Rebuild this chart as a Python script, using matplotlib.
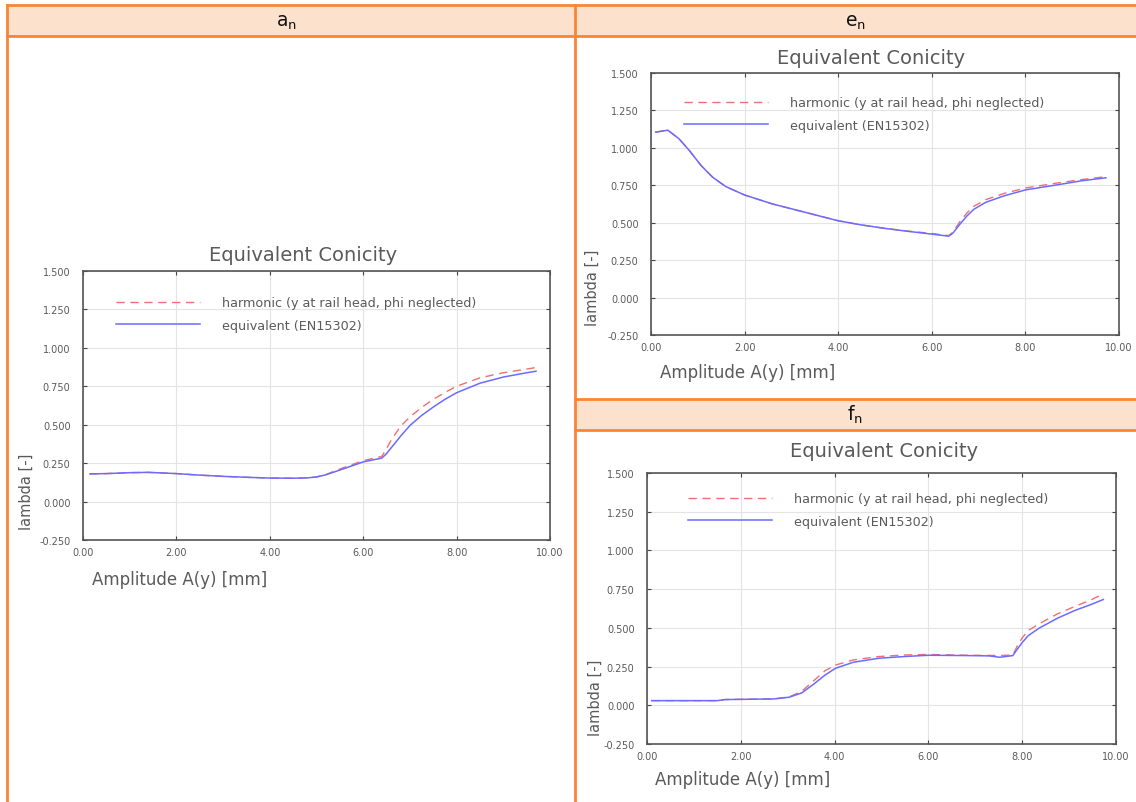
import numpy as np
import matplotlib
matplotlib.use("Agg")
import matplotlib.pyplot as plt
from matplotlib.lines import Line2D
from matplotlib.patches import Rectangle

# ---- data (amplitude [mm] -> lambda [-]) ----
a_x = [0.15, 0.5, 1.0, 1.4, 2.0, 2.5, 3.0, 3.5, 4.0, 4.5, 4.8, 5.0, 5.2, 5.5, 6.0, 6.4,
       6.5, 6.6, 6.8, 7.0, 7.25, 7.5, 7.75, 8.0, 8.5, 9.0, 9.5, 9.7]
a_equiv = [0.180, 0.182, 0.188, 0.190, 0.182, 0.172, 0.164, 0.158, 0.153, 0.152, 0.154, 0.160,
           0.174, 0.205, 0.258, 0.283, 0.312, 0.350, 0.425, 0.495, 0.560, 0.615, 0.665, 0.708,
           0.770, 0.810, 0.838, 0.848]
a_harm = [0.180, 0.182, 0.188, 0.190, 0.182, 0.172, 0.164, 0.158, 0.153, 0.152, 0.154, 0.160,
          0.176, 0.212, 0.266, 0.294, 0.345, 0.400, 0.490, 0.550, 0.612, 0.665, 0.710, 0.750,
          0.805, 0.838, 0.862, 0.872]

e_x = [0.1, 0.36, 0.6, 0.82, 1.07, 1.32, 1.6, 2.0, 2.6, 3.3, 4.0,
       4.5, 5.0, 5.5, 6.0, 6.36, 6.45, 6.6, 6.75, 6.9, 7.15, 7.55, 8.0, 8.7, 9.2, 9.72]
e_equiv = [1.105, 1.118, 1.060, 0.982, 0.882, 0.803, 0.741, 0.685, 0.625, 0.569, 0.513,
           0.485, 0.462, 0.442, 0.424, 0.410, 0.430, 0.490, 0.545, 0.590, 0.636, 0.680, 0.719,
           0.754, 0.780, 0.800]
e_harm = [1.105, 1.118, 1.060, 0.982, 0.882, 0.803, 0.741, 0.685, 0.625, 0.569, 0.513,
          0.485, 0.462, 0.444, 0.428, 0.414, 0.436, 0.507, 0.565, 0.610, 0.654, 0.696, 0.732,
          0.766, 0.788, 0.808]

f_x = [0.1, 1.5, 1.66, 2.7, 3.03, 3.3, 3.56, 3.8, 4.02, 4.4, 4.95, 5.5, 6.0, 6.85, 7.3, 7.52,
       7.8, 7.9, 8.0, 8.13, 8.36, 8.75, 9.12, 9.47, 9.73]
f_equiv = [0.030, 0.030, 0.037, 0.041, 0.052, 0.080, 0.138, 0.196, 0.239, 0.278, 0.304, 0.315,
           0.323, 0.321, 0.319, 0.310, 0.321, 0.364, 0.405, 0.450, 0.498, 0.562, 0.612, 0.651,
           0.683]
f_harm = [0.030, 0.030, 0.037, 0.041, 0.054, 0.090, 0.160, 0.224, 0.260, 0.293, 0.315, 0.325,
          0.328, 0.323, 0.322, 0.321, 0.325, 0.386, 0.435, 0.483, 0.526, 0.590, 0.638, 0.681,
          0.720]

y_ticks = [-0.25, 0.0, 0.25, 0.5, 0.75, 1.0, 1.25, 1.5]
x_ticks = [0, 2, 4, 6, 8, 10]

W, H = 1136, 803
ORANGE = "#f98535"
PEACH = "#fce1cd"
TXT = "#5a5a5a"
RED = "#f07070"
BLUE = "#6b6bff"

fig = plt.figure(figsize=(W / 100, H / 100), dpi=100)
fig.patch.set_facecolor("white")


def fx(px):
    return px / W


def fy(py):
    return 1 - py / H


# ---- table frame ----
for (x0, y0, x1, y1) in [(7, 6, 574.5, 37), (574.5, 6, W + 5, 37), (574.5, 400, W + 5, 431)]:
    fig.patches.append(Rectangle((fx(x0), fy(y1)), fx(x1 - x0), (y1 - y0) / H,
                                 transform=fig.transFigure, facecolor=PEACH,
                                 edgecolor="none", zorder=0))
for (x0, y0, x1, y1) in [(7, 6, 7, H), (574.5, 6, 574.5, H), (7, 6, W, 6), (7, 37, W, 37),
                         (574.5, 400, W, 400), (574.5, 431, W, 431)]:
    fig.lines.append(Line2D([fx(x0), fx(x1)], [fy(y0), fy(y1)], transform=fig.transFigure,
                            color=ORANGE, lw=2.0, zorder=5))

fig.text(fx(286), fy(22), r"a$_\mathregular{n}$", ha="center", va="center", fontsize=13.5, color="#111111")
fig.text(fx(855), fy(22), r"e$_\mathregular{n}$", ha="center", va="center", fontsize=13.5, color="#111111")
fig.text(fx(855), fy(415), r"f$_\mathregular{n}$", ha="center", va="center", fontsize=13.5, color="#111111")


def conicity_panel(box, x_eq, y_eq, x_h, y_h, title_xy, leg_xy, xlab_xy, ylab_xy):
    left, right, top, bottom = box
    ax = fig.add_axes([fx(left), fy(bottom), (right - left) / W, (bottom - top) / H])
    ax.plot(x_h, y_h, color=RED, lw=1.0, ls=(0, (6, 4)),
            label="harmonic (y at rail head, phi neglected)")
    ax.plot(x_eq, y_eq, color=BLUE, lw=1.1, label="equivalent (EN15302)")
    ax.set_xlim(0, 10)
    ax.set_ylim(-0.25, 1.5)
    ax.set_xticks(x_ticks)
    ax.set_yticks(y_ticks)
    ax.set_xticklabels([f"{v:.2f}" for v in x_ticks])
    ax.set_yticklabels([f"{v:.3f}" for v in y_ticks])
    ax.grid(True, color="#e4e4e4", lw=0.8)
    ax.tick_params(direction="in", top=True, right=True, length=3, width=0.8,
                   color="#444444", labelsize=7, labelcolor=TXT)
    ax.tick_params(axis="y", pad=9)
    ax.tick_params(axis="x", pad=5)
    for s in ax.spines.values():
        s.set_color("#555555")
        s.set_linewidth(1.2)

    fig.text(fx(title_xy[0]), fy(title_xy[1]), "Equivalent Conicity", ha="center", va="center",
             fontsize=14, color=TXT)
    fig.text(fx(xlab_xy[0]), fy(xlab_xy[1]), "Amplitude A(y) [mm]", ha="left", va="center",
             fontsize=12, color=TXT)
    fig.text(fx(ylab_xy[0]), fy(ylab_xy[1]), "lambda [-]", ha="center", va="center",
             rotation=90, fontsize=10.5, color=TXT)

    # legend anchored at the top-left of the dashed sample
    lx = (leg_xy[0] - left) / (right - left)
    ly = (bottom - leg_xy[1]) / (bottom - top)
    ax.legend(loc="upper left", bbox_to_anchor=(lx, ly), frameon=False, fontsize=9.2,
              handlelength=6.6, handletextpad=1.7, labelspacing=0.75, borderpad=0,
              borderaxespad=0, labelcolor=TXT)
    return ax


conicity_panel((83, 550, 272, 541), a_x, a_equiv, a_x, a_harm,
               (303, 256), (116, 297), (92, 580), (26, 492))
conicity_panel((651, 1119, 74, 336), e_x, e_equiv, e_x, e_harm,
               (871, 58), (684, 97), (660, 373), (592, 288))
conicity_panel((647, 1116, 474, 745), f_x, f_equiv, f_x, f_harm,
               (884, 452), (688, 493), (655, 780), (595, 698))

fig.savefig("out.png", dpi=100)
